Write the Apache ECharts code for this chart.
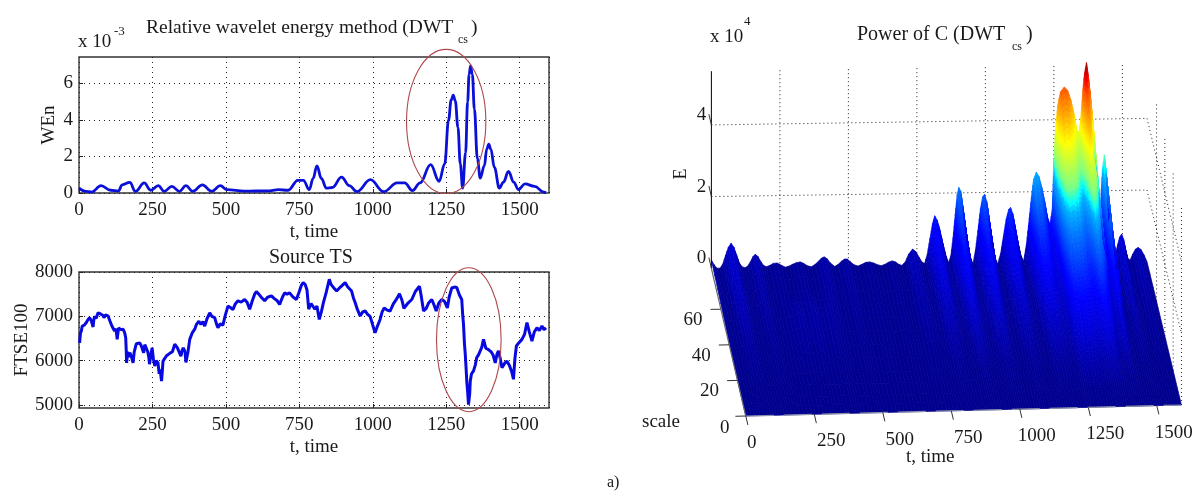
<!DOCTYPE html>
<html>
<head>
<meta charset="utf-8">
<style>html,body{margin:0;padding:0;background:#fff}#c{width:1200px;height:498px}</style>
<script src="https://cdn.jsdelivr.net/npm/echarts@6/dist/echarts.min.js"></script>
</head>
<body>
<div id="c"></div>
<script>
// ---- left panels: data ----
const timeTicks = [0,250,500,750,1000,1250,1500];
const wenTicks = [0,2,4,6];
const ftseTicks = [5000,6000,7000,8000];
const wenPoints = [[0,.27],[23,.09],[43,.05],[75,.4],[108,.15],[134,.1],[147,.45],[173,.58],[192,.09],[222,.55],[244,.15],[270,.4],[290,.09],[316,.36],[342,.09],[364,.4],[387,.09],[420,.45],[452,.09],[481,.4],[504,.18],[563,.1],[641,.12],[680,.18],[712,.15],[745,.69],[764,.69],[784,.18],[797,.8],[810,1.49],[825,.8],[842,.27],[862,.3],[894,.87],[920,.4],[946,.07],[992,.73],[1037,.07],[1083,.55],[1109,.55],[1135,.13],[1161,.55],[1197,1.55],[1226,.64],[1245,1.6],[1258,4],[1267,5.1],[1274,5.36],[1281,5.05],[1290,3.6],[1298,1.6],[1306,.27],[1316,2.2],[1323,5],[1328,6.5],[1333,6.96],[1339,6.5],[1346,4.6],[1356,1.9],[1366,.82],[1380,1.5],[1388,2.4],[1395,2.67],[1402,2.4],[1414,1.4],[1431,.27],[1445,.6],[1462,1.18],[1480,.6],[1496,.18],[1518,.5],[1551,.36],[1583,.04],[1590,.02]];
const sourcePoints = [[2,6400],[5,6620],[8,6670],[11,6780],[14,6820],[18,6800],[25,6860],[30,6920],[36,6970],[42,6900],[48,6760],[50,6900],[53,7000],[58,6950],[65,7080],[72,7060],[76,7090],[82,7020],[85,6970],[90,7030],[99,7010],[105,6900],[112,6780],[117,6810],[121,6670],[126,6720],[130,6480],[133,6650],[135,6740],[142,6700],[150,6710],[155,6640],[159,6520],[161,6200],[162,5950],[166,6200],[170,6080],[173,6180],[178,6100],[184,5950],[188,6200],[195,6380],[200,6350],[207,6400],[213,6320],[220,6180],[224,6360],[229,6380],[234,6200],[238,6060],[240,5920],[245,6150],[249,6290],[253,6050],[258,5880],[263,6000],[269,5950],[273,5700],[276,5800],[281,5540],[284,5800],[286,5990],[292,6050],[298,6110],[303,6140],[310,6170],[318,6200],[326,6370],[335,6290],[347,6100],[351,6230],[355,6290],[361,6200],[364,5960],[367,5950],[371,6200],[377,6480],[385,6620],[394,6710],[400,6820],[408,6890],[415,6820],[422,6880],[428,6780],[436,6950],[445,7080],[452,7000],[462,6970],[468,6830],[473,6740],[481,6830],[490,6800],[497,7000],[507,7230],[515,7200],[524,7150],[532,7280],[541,7350],[552,7320],[564,7380],[572,7320],[581,7160],[590,7350],[598,7500],[604,7560],[612,7500],[622,7420],[632,7350],[642,7430],[655,7460],[665,7400],[675,7350],[683,7270],[692,7420],[700,7530],[708,7500],[717,7530],[728,7440],[740,7380],[750,7560],[757,7700],[763,7760],[770,7720],[776,7600],[782,7160],[790,7290],[803,7160],[810,7230],[818,6930],[825,7100],[832,7310],[842,7550],[852,7835],[858,7720],[864,7680],[870,7620],[877,7570],[890,7660],[906,7760],[915,7660],[928,7570],[934,7420],[940,7310],[948,7150],[957,7010],[966,7100],[974,7120],[983,7040],[991,7000],[1000,6800],[1008,6630],[1016,6780],[1025,6930],[1032,7100],[1039,7190],[1049,7140],[1059,7120],[1070,7280],[1082,7400],[1091,7510],[1100,7350],[1106,7180],[1110,7190],[1120,7300],[1133,7380],[1145,7560],[1159,7680],[1164,7500],[1173,7120],[1182,7180],[1190,7300],[1201,7380],[1209,7250],[1216,7120],[1225,7300],[1235,7380],[1244,7340],[1254,7190],[1260,7430],[1269,7640],[1278,7660],[1286,7650],[1295,7480],[1303,7380],[1306,7050],[1309,6820],[1312,6400],[1315,6140],[1318,5800],[1320,5540],[1323,5300],[1326,5010],[1330,5250],[1332,5540],[1336,5700],[1343,5770],[1349,5900],[1354,6070],[1360,6130],[1366,6100],[1371,6300],[1377,6480],[1385,6280],[1394,6250],[1403,6200],[1410,6120],[1417,5950],[1423,6150],[1428,6220],[1434,6050],[1440,5840],[1450,5950],[1457,5990],[1466,5880],[1473,5750],[1479,5580],[1484,6050],[1489,6330],[1497,6400],[1508,6480],[1517,6600],[1525,6860],[1533,6650],[1542,6440],[1550,6650],[1559,6740],[1567,6680],[1576,6780],[1583,6700],[1590,6740]];
// [centre t, centre value, half-width t, half-height value]
const wenRing = [1250,3.92,135,3.95];
const ftseRing = [1327,6473,110,1624];

// ---- right panel: surface heights (x 10^4) ----
const surfaceT = [0,8,20,32,42,52,62,72,82,92,102,112,122,132,142,152,160,170,180,190,200,212,226,240,254,270,284,297,310,324,336,350,365,378,392,402,412,422,434,450,462,476,486,496,506,520,535,550,564,578,592,606,620,634,648,660,672,684,695,708,720,734,746,758,768,778,
788,798,807,815,824,834,845,856,866,874,882,890,897,903,910,918,927,936,946,955,964,973,982,990,997,1005,1014,1024,1034,1045,1056,1066,1076,1085,1092,1100,1110,1120,1130,1140,1150,1160,1168,1176,1186,1196,1206,1216,1226,1236,1244,1250,1256,1264,1274,1288,1300,1312,1324,1334,1342,1350,1356,1362,1369,1376,1384,1392,1400,1408,1415,1421,1427,1434,1441,1448,1456,1465,1474,1483,1490,1497,1504,1512,1520,1528,1538,1548,1558,1568,1578,1590];
const surfaceScale = [83,68,53,38,23,10,0];
const row83 = [.23,.12,0,0,.12,.36,.58,.69,.58,.36,.14,.03,0,.04,.16,.31,.37,.31,.17,.06,.02,.05,.11,.12,.06,0,.03,.08,.12,.14,.1,.03,0,.06,.16,.24,.27,.22,.1,0,.05,.15,.2,.2,.13,.04,0,.05,.1,.11,.08,.03,0,.04,.1,.13,.1,.03,0,.1,.31,.45,.38,.22,.09,.04,
.3,.75,1.15,1.37,1.25,.98,.6,.25,.06,.25,.75,1.4,1.95,2.15,2.05,1.6,1.05,.55,.18,.02,.4,.95,1.55,1.88,1.95,1.75,1.25,.65,.2,0,.3,.78,1.25,1.52,1.57,1.4,.98,.55,.22,.08,.55,1.25,1.85,2.35,2.55,2.42,2.12,1.75,1.3,1.1,1.5,2.9,3.75,4.4,4.78,4.91,4.82,4.55,4.15,3.7,3.65,4.2,4.85,5.3,5.58,5.2,4.6,3.95,2.9,1.9,1.1,1.7,2.6,3,2.45,1.5,.6,0,.2,.5,.7,.78,.65,.33,.1,.05,.22,.36,.4,.34,.2,0];
const row68 = [.17,.09,.02,.02,.09,.26,.42,.5,.42,.26,.1,.03,.02,.04,.12,.22,.27,.22,.12,.05,.02,.05,.08,.09,.05,.02,.03,.06,.09,.1,.07,.03,.02,.05,.12,.17,.19,.16,.07,.02,.04,.11,.14,.14,.09,.03,.02,.04,.07,.08,.06,.03,.02,.03,.07,.09,.07,.03,.02,.07,.22,.32,.27,.16,.07,.04,
.2,.48,.74,.88,.8,.63,.4,.18,.08,.18,.48,.9,1.24,1.36,1.3,1.02,.67,.36,.14,.06,.27,.61,.98,1.19,1.24,1.11,.8,.42,.15,.04,.21,.5,.8,.97,1,.89,.63,.37,.17,.1,.38,.82,1.2,1.5,1.63,1.56,1.38,1.15,.9,.78,1.05,2,2.55,3,3.25,3.35,3.28,3.1,2.82,2.5,2.48,2.86,3.3,3.6,3.8,3.54,3.13,2.7,2,1.3,.8,1.2,1.8,2.05,1.66,1.05,.42,.05,.14,.35,.49,.55,.45,.23,.08,.04,.15,.25,.28,.24,.14,0];
const row53 = [.11,.06,.02,.02,.06,.18,.29,.34,.29,.18,.07,.03,.02,.03,.08,.15,.19,.15,.09,.04,.03,.04,.06,.08,.12,.2,.22,.12,.14,.2,.24,.14,.08,.16,.2,.14,.13,.11,.05,.02,.03,.07,.1,.1,.06,.03,.02,.03,.05,.06,.04,.02,.02,.02,.05,.07,.05,.03,.03,.05,.15,.22,.19,.11,.06,.05,
.13,.29,.44,.52,.48,.38,.24,.12,.09,.13,.3,.54,.74,.82,.78,.61,.41,.23,.12,.08,.18,.37,.59,.72,.75,.67,.48,.26,.11,.05,.14,.31,.48,.58,.6,.54,.38,.23,.12,.09,.24,.5,.72,.9,.98,.94,.82,.7,.56,.5,.66,1.22,1.58,1.85,2,2.07,2.02,1.9,1.74,1.55,1.54,1.76,2.04,2.22,2.35,2.18,1.93,1.66,1.22,.82,.5,.74,1.1,1.26,1.03,.65,.28,.04,.09,.22,.3,.33,.28,.15,.06,.03,.1,.16,.18,.15,.09,0];
const row38 = [.06,.03,.01,.01,.03,.1,.16,.19,.16,.1,.04,.02,.01,.02,.05,.08,.1,.08,.05,.02,.02,.03,.04,.06,.08,.13,.13,.07,.09,.13,.14,.09,.05,.09,.12,.08,.07,.06,.03,.01,.02,.04,.05,.05,.04,.02,.01,.02,.03,.03,.02,.01,.01,.01,.03,.04,.03,.02,.02,.03,.08,.12,.1,.06,.04,.04,
.07,.14,.21,.25,.23,.18,.12,.07,.06,.07,.14,.25,.35,.39,.37,.29,.2,.12,.07,.05,.09,.17,.28,.34,.35,.32,.23,.13,.06,.03,.07,.15,.23,.28,.29,.26,.18,.11,.07,.05,.12,.24,.34,.43,.47,.45,.4,.34,.28,.26,.34,.64,.83,.97,1.05,1.08,1.06,1,.91,.81,.8,.92,1.07,1.17,1.23,1.15,1.01,.87,.64,.43,.27,.39,.57,.66,.54,.34,.15,.02,.05,.11,.15,.17,.14,.08,.03,.02,.05,.08,.09,.07,.04,0];
const row23 = [.02,.01,0,0,.01,.03,.05,.06,.05,.03,.01,.01,0,.01,.01,.03,.03,.03,.01,.01,.01,.01,.01,.01,.01,.02,.02,.01,.01,.02,.02,.01,.01,.01,.02,.02,.02,.02,.01,0,.01,.01,.02,.02,.01,.01,0,.01,.01,.01,.01,0,0,0,.01,.01,.01,.01,.01,.01,.03,.04,.03,.02,.01,.01,
.02,.04,.06,.07,.06,.05,.03,.02,.02,.02,.04,.07,.1,.11,.1,.08,.05,.03,.02,.01,.02,.05,.08,.09,.1,.09,.06,.03,.01,.01,.02,.04,.06,.08,.08,.07,.05,.03,.02,.01,.03,.06,.09,.12,.13,.12,.11,.09,.07,.07,.1,.2,.26,.31,.33,.35,.34,.32,.29,.26,.26,.29,.34,.37,.39,.36,.32,.28,.2,.13,.08,.12,.18,.21,.17,.1,.04,.01,.01,.03,.05,.05,.04,.02,.01,0,.01,.02,.03,.02,.01,0];
const row10 = [0,0,0,0,0,0,0,0,0,0,0,0,0,0,0,0,0,0,0,0,0,0,0,0,0,0,0,0,0,0,0,0,0,0,0,0,0,0,0,0,0,0,0,0,0,0,0,0,0,0,0,0,0,0,0,0,0,0,0,0,0,0,0,0,0,0,
0,.01,.01,.01,.01,.01,0,0,0,0,.01,.01,.01,.01,.01,.01,.01,0,0,0,0,.01,.01,.01,.01,.01,.01,0,0,0,0,.01,.01,.01,.01,.01,.01,0,0,0,.01,.01,.01,.01,.02,.02,.02,.01,.01,.01,.02,.03,.04,.05,.05,.05,.05,.05,.04,.04,.04,.04,.05,.05,.06,.05,.05,.04,.03,.02,.01,.02,.03,.03,.02,.02,.01,0,0,0,0,.01,0,0,0,0,0,0,0,0,0,0];
const row0 = surfaceT.map(() => 0);
const surfaceRows = [row83,row68,row53,row38,row23,row10,row0];
const scaleTicks = [0,20,40,60];
const energyTicks = [0,2,4];

// ---- helpers ----
const FONT = '"Liberation Serif"';
const INK = '#1a1a1a';
const tMax3d = 1590, sMax3d = 83, eTop3d = 5.5;

function project(api, t, s, e) {
  return api.coord([t - s * 1.513, t * 0.000193 + s * 0.04968 * (1 - 0.03 * t / tMax3d) + e]);
}
// height -> position in the jet palette
const heightStops = [[0,0],[.3,.04],[.7,.085],[1.4,.15],[2.15,.24],[2.55,.3],[3,.5],[3.85,.63],[4.91,.8],[5.58,1]];
const jetStops = [[0,[0,0,143]],[.125,[0,0,255]],[.375,[0,255,255]],[.625,[255,255,0]],[.875,[255,0,0]],[1,[128,0,0]]];
function lerpTable(tab, x) {
  if (x <= tab[0][0]) return tab[0][1];
  for (let i = 1; i < tab.length; i++) {
    if (x <= tab[i][0]) {
      const f = (x - tab[i-1][0]) / (tab[i][0] - tab[i-1][0]);
      const a = tab[i-1][1], b = tab[i][1];
      return Array.isArray(a) ? a.map((v, k) => v + (b[k] - v) * f) : a + (b - a) * f;
    }
  }
  return tab[tab.length-1][1];
}
function heightColor(e) {
  const c = lerpTable(jetStops, lerpTable(heightStops, e));
  return 'rgb(' + c.map(Math.round).join(',') + ')';
}

const cells = [];
for (let r = 0; r < surfaceRows.length - 1; r++)
  for (let c = 0; c < surfaceT.length - 1; c++) cells.push([c, r]);

// one mesh cell, shaded like MATLAB "shading interp": the cell is split only for its colour ramp
function renderCell(params, api) {
  const c = api.value(0), r = api.value(1);
  const t0 = surfaceT[c], t1 = surfaceT[c+1], s0 = surfaceScale[r], s1 = surfaceScale[r+1];
  const e00 = surfaceRows[r][c] || 0, e10 = surfaceRows[r][c+1] || 0;
  const e01 = surfaceRows[r+1][c] || 0, e11 = surfaceRows[r+1][c+1] || 0;
  const alongS = Math.max(Math.abs(e00 - e01), Math.abs(e10 - e11));
  const alongT = Math.max(Math.abs(e00 - e10), Math.abs(e01 - e11));
  const nV = Math.min(14, Math.max(2, Math.ceil(alongS / 0.05)));
  const nU = Math.min(4, Math.max(1, Math.ceil(alongT / 0.2)));
  const at = (u, v) => {
    const e = (e00 * (1-u) + e10 * u) * (1-v) + (e01 * (1-u) + e11 * u) * v;
    return {e: e, p: project(api, t0 + (t1 - t0) * u, s0 + (s1 - s0) * v, e)};
  };
  const kids = [];
  for (let j = 0; j < nV; j++) {
    for (let i = 0; i < nU; i++) {
      const a = at(i / nU, j / nV), b = at((i+1) / nU, j / nV);
      const d = at((i+1) / nU, (j+1) / nV), f = at(i / nU, (j+1) / nV);
      const col = heightColor((a.e + b.e + d.e + f.e) / 4);
      kids.push({type: 'polygon', silent: true, shape: {points: [a.p, b.p, d.p, f.p]},
                 style: {fill: col, stroke: col, lineWidth: 0.7}});
    }
  }
  return {type: 'group', silent: true, children: kids};
}

// dotted walls: vertical lines on back and side walls, height rings
const wallLines = [];
timeTicks.slice(1).forEach(t => wallLines.push([t, sMax3d, 0, t, sMax3d, eTop3d]));
energyTicks.slice(1).forEach(e => {
  wallLines.push([0, sMax3d, e, tMax3d, sMax3d, e]);
  wallLines.push([tMax3d, sMax3d, e, tMax3d, 0, e]);
});
scaleTicks.forEach(s => wallLines.push([tMax3d, s, 0, tMax3d, s, eTop3d]));

function renderWall(params, api) {
  const a = project(api, api.value(0), api.value(1), api.value(2));
  const b = project(api, api.value(3), api.value(4), api.value(5));
  return {type: 'line', silent: true, shape: {x1: a[0], y1: a[1], x2: b[0], y2: b[1]},
          style: {stroke: '#222', lineWidth: 1, lineDash: [1, 3]}};
}

function lineEl(a, b, color, width, dash) {
  return {type: 'line', silent: true, shape: {x1: a[0], y1: a[1], x2: b[0], y2: b[1]},
          style: {stroke: color, lineWidth: width, lineDash: dash}};
}
function textEl(p, text) {
  return {type: 'text', silent: true, x: p[0], y: p[1],
          style: {text: text, fontFamily: FONT, fontSize: 19, fill: INK, textAlign: 'center', textVerticalAlign: 'middle'}};
}
function renderFrame(params, api) {
  const kids = [];
  kids.push(lineEl(project(api,0,sMax3d,0), project(api,0,sMax3d,eTop3d), '#000', 1));
  kids.push(lineEl(project(api,0,sMax3d,0), project(api,0,0,0), '#667', 1.2));
  kids.push(lineEl(project(api,0,0,0), project(api,tMax3d,0,0), '#8a90a8', 1.2, [28, 10]));
  energyTicks.forEach(e => {
    const p = project(api,0,sMax3d,e);
    kids.push(lineEl(p, project(api,0,sMax3d+6,e), '#333', 1));
    kids.push(textEl([p[0]-10, p[1]-10], String(e)));
  });
  scaleTicks.forEach(s => {
    const p = project(api,0,s,0);
    kids.push(lineEl(p, project(api,-38,s,0), '#333', 1));
    kids.push(textEl(s === 0 ? [p[0]-21, p[1]+12] : [p[0]-28, p[1]+11], String(s)));
  });
  timeTicks.forEach(t => {
    const p = project(api,t,0,0);
    kids.push(lineEl(p, project(api,t,-5,0), '#333', 1));
    kids.push(textEl([p[0]+(t === 0 ? 6 : 17), p[1]+27], String(t)));
  });
  return {type: 'group', silent: true, children: kids};
}

function ringSeries(ring, axis) {
  return {
    type: 'custom', xAxisIndex: axis, yAxisIndex: axis, clip: false, silent: true, z: 5,
    data: [ring], encode: {x: 0, y: 1},
    renderItem(params, api) {
      const c = api.coord([api.value(0), api.value(1)]);
      const e = api.coord([api.value(0) + api.value(2), api.value(1) + api.value(3)]);
      return {type: 'ellipse', silent: true,
              shape: {cx: c[0], cy: c[1], rx: Math.abs(e[0]-c[0]), ry: Math.abs(e[1]-c[1])},
              style: {fill: 'none', stroke: '#b0484c', lineWidth: 1.1}};
    }
  };
}
const plain = v => String(v);

function xAxis2d(idx) {
  return {
    type: 'value', gridIndex: idx, min: 0, max: 1600, interval: 250,
    name: 't, time', nameLocation: 'middle', nameGap: 30,
    nameTextStyle: {fontFamily: FONT, fontSize: 19, color: INK},
    axisLine: {show: false},
    axisTick: {inside: true, length: 4, lineStyle: {color: '#222'}},
    axisLabel: {showMaxLabel: false, formatter: plain, fontFamily: FONT, fontSize: 19, color: INK, margin: 8},
    splitLine: {show: true, lineStyle: {type: [1, 4], color: '#222', width: 1}}
  };
}
function yAxis2d(idx, name, min, max, ticks, gap) {
  return {
    type: 'value', gridIndex: idx, min: min, max: max, name: name, nameLocation: 'middle', nameGap: gap,
    nameTextStyle: {fontFamily: FONT, fontSize: 19, color: INK},
    axisLine: {show: false},
    axisTick: {inside: true, length: 4, customValues: ticks, lineStyle: {color: '#222'}},
    axisLabel: {customValues: ticks, formatter: plain, fontFamily: FONT, fontSize: 19, color: INK, margin: 6},
    splitLine: {show: true, lineStyle: {type: [1, 4], color: '#222', width: 1}}
  };
}
function piece(text, left, top, size) {
  return {text: text, left: left, top: top, padding: 0,
          textStyle: {fontFamily: FONT, fontWeight: 'normal', fontSize: size, color: INK}};
}

const option = {
  animation: false,
  backgroundColor: '#fff',
  title: [
    piece('Relative wavelet energy method (DWT', 146, 18, 19.5),
    piece('cs', 458, 34, 12),
    piece(')', 471, 18, 19.5),
    piece('x 10', 78, 33, 19),
    piece('-3', 114, 25, 13),
    piece('Source TS', 269, 248, 20),
    piece('Power of C (DWT', 857, 25, 20),
    piece('cs', 1012, 41, 12),
    piece(')', 1026, 25, 20),
    piece('x 10', 710, 28, 19),
    piece('4', 744, 15, 13),
    piece('t, time', 906, 448, 19),
    piece('scale', 642, 413, 19),
    piece('a)', 607, 475, 16)
  ],
  graphic: [{
    type: 'text', x: 681, y: 174, rotation: Math.PI / 2, silent: true,
    style: {text: 'E', fontFamily: FONT, fontSize: 18, fill: INK, textAlign: 'center', textVerticalAlign: 'middle'}
  }],
  grid: [
    {left: 79, width: 470, top: 57, height: 136, show: true, borderColor: '#333', borderWidth: 1.4, backgroundColor: '#fff'},
    {left: 79, width: 470, top: 272, height: 136, show: true, borderColor: '#333', borderWidth: 1.4, backgroundColor: '#fff'},
    {left: 620, right: 0, top: 0, bottom: 0}
  ],
  xAxis: [
    xAxis2d(0), xAxis2d(1),
    {type: 'value', gridIndex: 2, min: -459.1, max: 1657.7, show: false, splitLine: {show: false}}
  ],
  yAxis: [
    yAxis2d(0, 'WEn', 0, 7.45, wenTicks, 20),
    yAxis2d(1, 'FTSE100', 4932, 8000, ftseTicks, 46),
    {type: 'value', gridIndex: 2, min: -2.288, max: 11.61, show: false, splitLine: {show: false}}
  ],
  series: [
    {type: 'line', xAxisIndex: 0, yAxisIndex: 0, data: wenPoints, symbol: 'none', smooth: 0.4, smoothMonotone: 'x',
     lineStyle: {color: '#0a10d8', width: 2.8}, z: 3},
    {type: 'line', xAxisIndex: 1, yAxisIndex: 1, data: sourcePoints, symbol: 'none',
     lineStyle: {color: '#0808e0', width: 3}, z: 3},
    ringSeries(wenRing, 0),
    ringSeries(ftseRing, 1),
    {type: 'custom', xAxisIndex: 2, yAxisIndex: 2, clip: false, silent: true, z: 2,
     data: wallLines, encode: {x: 0, y: 2}, renderItem: renderWall},
    {type: 'custom', xAxisIndex: 2, yAxisIndex: 2, clip: false, silent: true, z: 3,
     data: cells, encode: {x: 0, y: 1}, renderItem: renderCell},
    {type: 'custom', xAxisIndex: 2, yAxisIndex: 2, clip: false, silent: true, z: 4,
     data: [[0, 0]], encode: {x: 0, y: 1}, renderItem: renderFrame}
  ]
};
const chart = echarts.init(document.getElementById('c'), null, {renderer: 'canvas'});
chart.setOption(option);
</script>
</body>
</html>
